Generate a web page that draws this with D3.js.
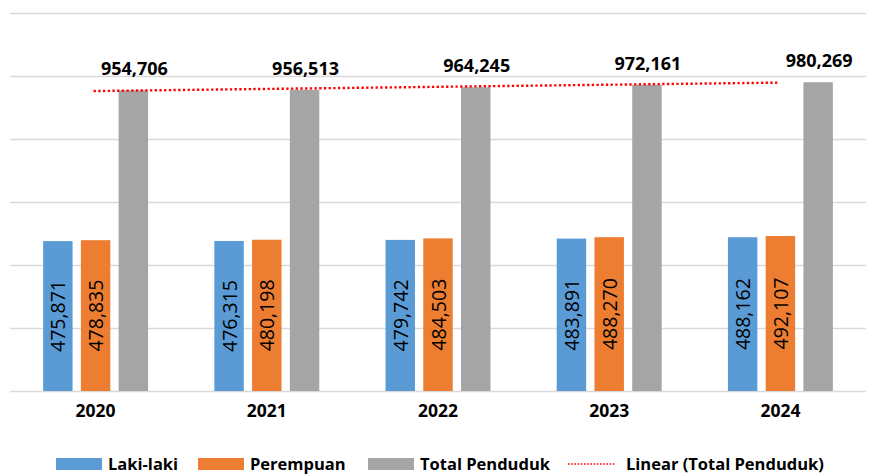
<!DOCTYPE html>
<html>
<head>
<meta charset="utf-8">
<script src="https://cdn.jsdelivr.net/npm/d3@7"></script>
<style>
  body { margin: 0; background: #fff; }
  svg { display: block; font-family: "Open Sans", sans-serif; }
  .grid line { stroke: #d9d9d9; stroke-width: 1.3; }
  .grid .domain { display: none; }
</style>
</head>
<body>
<svg id="chart" width="872" height="475">
  <g id="grid"></g>
  <g id="bars"></g>
  <g id="trend"></g>
  <g id="labels"></g>
  <g id="x_axis"></g>
  <g id="legend"></g>
</svg>
<script>
  let years = ["2020", "2021", "2022", "2023", "2024"]
  let laki_laki = [475871, 476315, 479742, 483891, 488162]
  let perempuan = [478835, 480198, 484503, 488270, 492107]
  let total_penduduk = [954706, 956513, 964245, 972161, 980269]
  let y_ticks = [0, 200000, 400000, 600000, 800000, 1000000, 1200000]

  let series_names = ["Laki-laki", "Perempuan", "Total Penduduk"]
  let series_colors = ["#5b9bd5", "#ed7d31", "#a5a5a5"]
  let trend_name = "Linear (Total Penduduk)"

  let fmt = d3.format(",")

  function make_scales(margin) {
    let x = d3.scaleBand()
      .domain(years)
      .range([margin.left, 872 - margin.right])
      .padding(0)
    let cluster = x.bandwidth() * 0.613
    let inner = d3.scaleBand()
      .domain(series_names)
      .range([(x.bandwidth() - cluster) / 2, (x.bandwidth() + cluster) / 2])
      .paddingInner(0.22)
    let y = d3.scaleLinear()
      .domain([0, d3.max(y_ticks)])
      .range([margin.bottom, margin.top])
    return {x: x, inner: inner, y: y}
  }

  function draw_grid(scales, margin) {
    let grid = d3.axisLeft(scales.y)
      .tickValues(y_ticks)
      .tickSize(-(872 - margin.left - margin.right))
      .tickFormat("")
    d3.select("#grid")
      .attr("class", "grid")
      .attr("transform", `translate(${margin.left}, 0)`)
      .call(grid)
  }

  function draw_bars(rows, scales) {
    let groups = d3.select("#bars")
      .selectAll("g")
      .data(rows).enter()
      .append("g")
      .attr("transform", d => `translate(${scales.x(d.year)}, 0)`)

    groups.selectAll("rect")
      .data(d => d.values).enter()
      .append("rect")
      .attr("x", d => scales.inner(d.name))
      .attr("width", scales.inner.bandwidth())
      .attr("y", d => scales.y(d.value))
      .attr("height", d => scales.y(0) - scales.y(d.value))
      .attr("fill", (d, i) => series_colors[i])

    // rotated value labels inside the two small bars
    groups.selectAll("text.inside")
      .data(d => d.values.slice(0, 2)).enter()
      .append("text")
      .attr("class", "inside")
      .attr("transform", d => {
        let cx = scales.inner(d.name) + scales.inner.bandwidth() / 2
        let cy = (scales.y(d.value) + scales.y(0)) / 2
        return `translate(${cx}, ${cy}) rotate(-90)`
      })
      .attr("text-anchor", "middle")
      .attr("dominant-baseline", "central")
      .attr("font-size", 19.5)
      .attr("fill", "#000")
      .text(d => fmt(d.value))

    // totals above the gray bar
    groups.selectAll("text.top")
      .data(d => d.values.slice(2)).enter()
      .append("text")
      .attr("class", "top")
      .attr("x", d => scales.inner(d.name) + scales.inner.bandwidth() / 2 + 1)
      .attr("y", d => scales.y(d.value) - 15)
      .attr("text-anchor", "middle")
      .attr("font-size", 18)
      .attr("font-weight", "bold")
      .attr("fill", "#000")
      .text(d => fmt(d.value))
  }

  function draw_trend(scales) {
    // least squares line through the totals, as the spreadsheet trendline
    let n = total_penduduk.length
    let xs = d3.range(1, n + 1)
    let mx = d3.mean(xs), my = d3.mean(total_penduduk)
    let slope = d3.sum(xs, (x, i) => (x - mx) * (total_penduduk[i] - my)) /
      d3.sum(xs, x => (x - mx) * (x - mx))
    let fit = x => my + slope * (x - mx)
    let ends = [0, n - 1].map(i => ({year: years[i], value: fit(i + 1)}))

    let line = d3.line()
      .x(d => scales.x(d.year) + scales.x.bandwidth() / 2 - 2)
      .y(d => scales.y(d.value))

    d3.select("#trend")
      .append("path")
      .datum(ends)
      .attr("d", line)
      .attr("fill", "none")
      .attr("stroke", "#ff0000")
      .attr("stroke-width", 2.4)
      .attr("stroke-dasharray", "2.3 2.4")
  }

  function draw_x_axis(scales, margin) {
    let x_axis = d3.axisBottom(scales.x).tickSize(0).tickPadding(20)
    let g = d3.select("#x_axis")
      .attr("transform", `translate(0, ${margin.bottom})`)
      .call(x_axis)
    g.select(".domain").remove()
    g.selectAll("text")
      .attr("font-family", "Open Sans, sans-serif")
      .attr("font-size", 17.5)
      .attr("font-weight", "bold")
      .attr("fill", "#000")
      .attr("dy", "0.32em")
  }

  function draw_legend() {
    let swatch_x = [56, 198, 368, 568]
    let names = series_names.concat([trend_name])
    let legend = d3.select("#legend")
    names.forEach((name, i) => {
      let x = swatch_x[i]
      if (i < 3) {
        legend.append("rect")
          .attr("x", x).attr("y", 458)
          .attr("width", 46).attr("height", 12)
          .attr("fill", series_colors[i])
      } else {
        legend.append("line")
          .attr("x1", x).attr("x2", x + 48)
          .attr("y1", 464).attr("y2", 464)
          .attr("stroke", "#ff0000")
          .attr("stroke-width", 1.6)
          .attr("stroke-dasharray", "1.6 1.6")
      }
      legend.append("text")
        .attr("x", x + (i < 3 ? 52 : 58))
        .attr("y", 470)
        .attr("font-size", 16.5)
        .attr("font-weight", "bold")
        .attr("fill", "#000")
        .text(name)
    })
  }

  function visualize() {
    let margin = {top: 13, right: 6, bottom: 391, left: 10}
    let rows = years.map((year, i) => ({
      year: year,
      values: [
        {name: series_names[0], value: laki_laki[i]},
        {name: series_names[1], value: perempuan[i]},
        {name: series_names[2], value: total_penduduk[i]}
      ]
    }))
    let scales = make_scales(margin)
    draw_grid(scales, margin)
    draw_bars(rows, scales)
    draw_trend(scales)
    draw_x_axis(scales, margin)
    draw_legend()
  }

  visualize()
</script>
</body>
</html>
